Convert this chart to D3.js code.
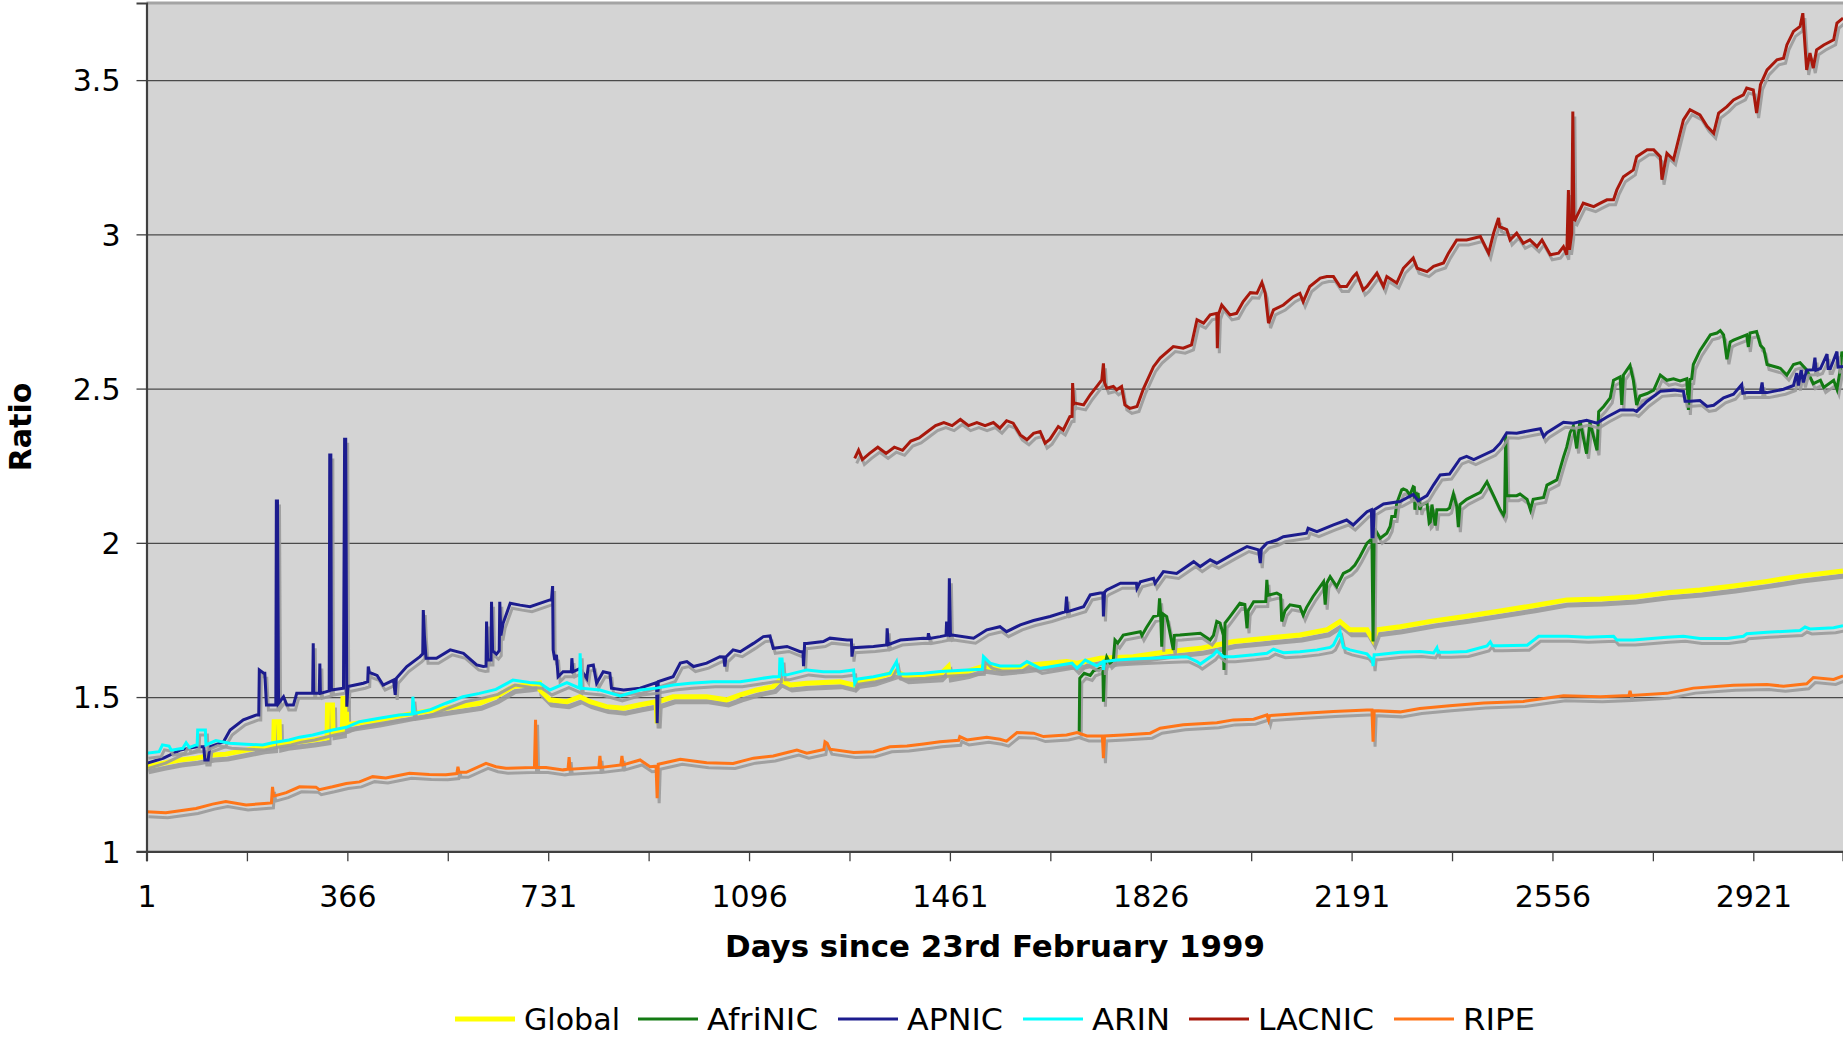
<!DOCTYPE html>
<html>
<head>
<meta charset="utf-8">
<script src="https://cdn.jsdelivr.net/npm/d3@7/dist/d3.min.js"></script>
<style>
  html, body { margin: 0; padding: 0; background: #ffffff; }
  svg { display: block; }
  text { font-family: "DejaVu Sans", Verdana, sans-serif; fill: #000; }
</style>
</head>
<body>
<svg id="chart" width="1843" height="1049"></svg>
<script>
// ---------------- DATA (day, ratio) ----------------
const seriesNames = ["Global", "AfriNIC", "APNIC", "ARIN", "LACNIC", "RIPE"];
const yTickValues = [1, 1.5, 2, 2.5, 3, 3.5];
const xTickLabels = ["1", "366", "731", "1096", "1461", "1826", "2191", "2556", "2921"];

const globalData = [[1,1.274],[30,1.285],[61,1.296],[91,1.302],[121,1.312],[145,1.315],[182,1.328],[212,1.339],[232,1.342],[233,1.42],[242,1.42],[243,1.345],[255,1.350],[303,1.361],[329,1.368],[330,1.474],[339,1.474],[340,1.385],[357,1.39],[358,1.496],[364,1.496],[365,1.410],[424,1.426],[485,1.447],[545,1.464],[606,1.480],[636,1.501],[667,1.534],[697,1.540],[715,1.545],[716,1.523],[734,1.491],[765,1.485],[789,1.501],[807,1.485],[837,1.469],[868,1.464],[898,1.475],[927,1.485],[929,1.415],[931,1.485],[958,1.501],[1019,1.501],[1055,1.491],[1080,1.507],[1110,1.523],[1140,1.534],[1152,1.556],[1171,1.539],[1201,1.545],[1261,1.550],[1286,1.539],[1292,1.550],[1322,1.558],[1364,1.583],[1383,1.566],[1443,1.572],[1458,1.599],[1460,1.572],[1492,1.583],[1522,1.600],[1552,1.593],[1589,1.599],[1613,1.605],[1673,1.615],[1692,1.610],[1734,1.626],[1794,1.631],[1855,1.647],[1916,1.658],[1946,1.669],[1976,1.680],[2037,1.691],[2097,1.701],[2146,1.718],[2170,1.745],[2188,1.718],[2219,1.718],[2230,1.685],[2237,1.718],[2279,1.728],[2340,1.747],[2400,1.762],[2461,1.779],[2521,1.796],[2582,1.815],[2643,1.818],[2703,1.824],[2764,1.838],[2824,1.847],[2885,1.860],[2946,1.875],[3006,1.892],[3084,1.909]];

const afrinicData = [[1696,1.388],[1697,1.561],[1705,1.577],[1716,1.570],[1722,1.585],[1734,1.593],[1739,1.593],[1740,1.485],[1742,1.600],[1746,1.630],[1752,1.610],[1758,1.620],[1761,1.685],[1766,1.675],[1776,1.701],[1807,1.712],[1810,1.700],[1818,1.725],[1831,1.761],[1840,1.765],[1842,1.820],[1844,1.770],[1846,1.663],[1848,1.770],[1855,1.761],[1861,1.707],[1867,1.653],[1869,1.700],[1879,1.701],[1916,1.707],[1934,1.685],[1940,1.700],[1946,1.745],[1952,1.740],[1958,1.700],[1959,1.588],[1961,1.740],[1970,1.761],[1988,1.804],[1997,1.800],[2001,1.723],[2003,1.780],[2013,1.809],[2035,1.810],[2037,1.880],[2039,1.830],[2055,1.837],[2062,1.830],[2064,1.745],[2070,1.780],[2079,1.799],[2097,1.793],[2103,1.766],[2109,1.790],[2121,1.826],[2140,1.874],[2143,1.800],[2146,1.870],[2152,1.890],[2164,1.858],[2176,1.901],[2188,1.912],[2197,1.928],[2206,1.955],[2219,1.999],[2225,2.009],[2228,2.010],[2230,1.680],[2232,2.040],[2234,2.042],[2243,2.015],[2255,2.031],[2261,2.053],[2264,2.085],[2270,2.085],[2273,2.128],[2282,2.172],[2285,2.175],[2291,2.170],[2297,2.155],[2303,2.182],[2305,2.180],[2306,2.107],[2308,2.160],[2312,2.158],[2315,2.107],[2318,2.123],[2328,2.130],[2332,2.064],[2334,2.068],[2337,2.124],[2343,2.056],[2346,2.107],[2364,2.107],[2369,2.113],[2376,2.159],[2382,2.119],[2385,2.051],[2388,2.124],[2400,2.141],[2413,2.153],[2425,2.164],[2437,2.198],[2449,2.153],[2461,2.107],[2467,2.090],[2469,2.100],[2471,2.351],[2473,2.153],[2491,2.153],[2497,2.158],[2510,2.141],[2516,2.107],[2521,2.141],[2540,2.147],[2546,2.187],[2564,2.204],[2576,2.278],[2582,2.311],[2588,2.357],[2594,2.379],[2600,2.306],[2606,2.397],[2618,2.289],[2624,2.391],[2637,2.300],[2640,2.425],[2649,2.442],[2661,2.470],[2667,2.527],[2679,2.538],[2682,2.447],[2685,2.544],[2697,2.575],[2703,2.527],[2709,2.447],[2715,2.476],[2728,2.484],[2740,2.495],[2752,2.544],[2764,2.527],[2776,2.532],[2788,2.525],[2800,2.532],[2803,2.431],[2806,2.530],[2809,2.532],[2812,2.578],[2824,2.623],[2843,2.674],[2855,2.680],[2861,2.688],[2867,2.674],[2873,2.595],[2879,2.651],[2885,2.657],[2909,2.674],[2912,2.635],[2915,2.680],[2927,2.685],[2934,2.640],[2940,2.629],[2946,2.578],[2970,2.566],[2982,2.544],[2994,2.578],[3006,2.584],[3018,2.561],[3030,2.516],[3043,2.527],[3049,2.504],[3067,2.527],[3073,2.498],[3079,2.561],[3082,2.620],[3084,2.600]];

const apnicData = [[1,1.285],[32,1.302],[62,1.328],[92,1.339],[105,1.339],[107,1.296],[113,1.296],[116,1.339],[141,1.355],[153,1.393],[177,1.426],[201,1.442],[205,1.442],[206,1.588],[214,1.577],[216,1.577],[219,1.474],[236,1.474],[237,2.136],[239,2.136],[241,1.480],[250,1.501],[256,1.474],[268,1.474],[274,1.512],[303,1.512],[304,1.674],[305,1.512],[315,1.512],[316,1.609],[317,1.512],[333,1.520],[334,2.285],[336,2.285],[337,1.523],[359,1.529],[361,2.336],[363,2.336],[365,1.469],[367,1.534],[395,1.545],[403,1.550],[404,1.599],[406,1.580],[420,1.570],[431,1.539],[450,1.555],[453,1.507],[455,1.561],[474,1.599],[498,1.631],[503,1.640],[504,1.782],[506,1.700],[509,1.626],[528,1.626],[553,1.653],[577,1.642],[601,1.604],[613,1.599],[618,1.600],[619,1.745],[621,1.620],[627,1.620],[628,1.809],[630,1.650],[637,1.639],[642,1.650],[643,1.809],[645,1.700],[649,1.739],[662,1.804],[680,1.798],[698,1.793],[734,1.815],[737,1.815],[739,1.860],[740,1.653],[743,1.620],[746,1.637],[749,1.566],[758,1.582],[773,1.582],[774,1.626],[776,1.582],[789,1.593],[801,1.561],[804,1.601],[813,1.604],[819,1.545],[831,1.582],[843,1.577],[846,1.529],[868,1.523],[898,1.529],[928,1.547],[929,1.415],[931,1.550],[958,1.566],[971,1.610],[983,1.615],[995,1.599],[1019,1.610],[1043,1.631],[1050,1.630],[1052,1.599],[1054,1.630],[1067,1.653],[1080,1.647],[1104,1.674],[1122,1.696],[1134,1.698],[1140,1.658],[1165,1.664],[1189,1.647],[1194,1.647],[1195,1.600],[1197,1.674],[1201,1.674],[1231,1.680],[1243,1.691],[1274,1.685],[1282,1.685],[1283,1.631],[1285,1.660],[1322,1.664],[1346,1.669],[1347,1.723],[1349,1.670],[1371,1.685],[1413,1.691],[1421,1.690],[1422,1.707],[1424,1.690],[1443,1.696],[1454,1.700],[1455,1.745],[1457,1.700],[1459,1.700],[1460,1.885],[1462,1.700],[1465,1.701],[1504,1.691],[1528,1.718],[1552,1.728],[1564,1.712],[1589,1.734],[1613,1.748],[1643,1.761],[1671,1.777],[1673,1.826],[1675,1.777],[1704,1.793],[1716,1.831],[1734,1.837],[1739,1.837],[1740,1.761],[1742,1.840],[1746,1.847],[1771,1.869],[1800,1.869],[1801,1.853],[1807,1.874],[1831,1.885],[1834,1.869],[1849,1.907],[1873,1.901],[1904,1.939],[1916,1.923],[1934,1.945],[1946,1.934],[1976,1.964],[2001,1.988],[2022,1.977],[2025,1.934],[2027,1.980],[2037,1.999],[2055,2.009],[2067,2.020],[2109,2.031],[2112,2.047],[2128,2.036],[2158,2.058],[2182,2.074],[2194,2.058],[2219,2.101],[2227,2.107],[2228,2.020],[2230,2.020],[2232,2.107],[2249,2.126],[2279,2.134],[2303,2.157],[2312,2.136],[2328,2.153],[2340,2.188],[2352,2.220],[2369,2.223],[2388,2.272],[2400,2.280],[2413,2.270],[2449,2.300],[2461,2.323],[2473,2.357],[2491,2.355],[2521,2.366],[2534,2.370],[2540,2.345],[2546,2.357],[2576,2.391],[2594,2.388],[2618,2.397],[2637,2.388],[2655,2.408],[2679,2.431],[2703,2.431],[2709,2.426],[2728,2.459],[2752,2.491],[2776,2.495],[2794,2.491],[2797,2.459],[2806,2.459],[2824,2.461],[2837,2.442],[2849,2.446],[2867,2.470],[2885,2.482],[2900,2.513],[2902,2.485],[2909,2.487],[2934,2.487],[2937,2.520],[2939,2.487],[2946,2.487],[2976,2.498],[2994,2.510],[3000,2.550],[3003,2.510],[3008,2.560],[3012,2.520],[3018,2.560],[3030,2.561],[3033,2.600],[3035,2.560],[3043,2.565],[3055,2.612],[3057,2.565],[3061,2.565],[3073,2.620],[3075,2.570],[3084,2.572]];

const arinData = [[1,1.318],[24,1.323],[30,1.345],[42,1.341],[46,1.328],[67,1.334],[73,1.352],[79,1.337],[91,1.345],[93,1.345],[94,1.393],[108,1.393],[109,1.345],[127,1.359],[152,1.350],[182,1.347],[212,1.345],[230,1.352],[260,1.361],[279,1.370],[303,1.377],[339,1.393],[364,1.402],[388,1.420],[424,1.431],[460,1.442],[484,1.445],[485,1.501],[488,1.447],[515,1.458],[545,1.480],[576,1.501],[606,1.512],[636,1.525],[667,1.555],[697,1.547],[716,1.545],[734,1.523],[765,1.547],[788,1.529],[789,1.642],[791,1.529],[825,1.523],[862,1.504],[898,1.523],[928,1.529],[958,1.539],[989,1.545],[1031,1.550],[1080,1.550],[1110,1.558],[1140,1.566],[1151,1.566],[1152,1.623],[1156,1.623],[1158,1.572],[1165,1.572],[1201,1.588],[1231,1.582],[1261,1.582],[1286,1.588],[1288,1.545],[1292,1.558],[1322,1.566],[1352,1.577],[1364,1.615],[1368,1.575],[1383,1.575],[1413,1.577],[1443,1.583],[1492,1.588],[1520,1.590],[1522,1.631],[1534,1.610],[1552,1.601],[1589,1.601],[1601,1.615],[1625,1.593],[1673,1.607],[1683,1.610],[1692,1.593],[1707,1.620],[1728,1.601],[1739,1.615],[1740,1.588],[1742,1.615],[1764,1.620],[1794,1.623],[1855,1.628],[1891,1.631],[1910,1.615],[1916,1.607],[1940,1.637],[1946,1.650],[1958,1.631],[1976,1.631],[2013,1.637],[2037,1.642],[2049,1.655],[2067,1.644],[2097,1.647],[2128,1.653],[2152,1.661],[2158,1.669],[2170,1.712],[2176,1.661],[2188,1.653],[2219,1.640],[2229,1.620],[2230,1.600],[2232,1.637],[2237,1.637],[2279,1.645],[2315,1.648],[2340,1.643],[2346,1.660],[2348,1.645],[2369,1.645],[2400,1.648],[2437,1.666],[2443,1.679],[2447,1.666],[2461,1.666],[2510,1.668],[2531,1.697],[2582,1.697],[2618,1.694],[2667,1.697],[2673,1.685],[2703,1.685],[2764,1.694],[2794,1.697],[2824,1.690],[2873,1.690],[2903,1.697],[2909,1.705],[2946,1.710],[3006,1.716],[3015,1.727],[3024,1.721],[3067,1.725],[3084,1.731]];

const lacnicData = [[1288,2.274],[1295,2.300],[1302,2.270],[1315,2.290],[1330,2.310],[1345,2.290],[1360,2.310],[1375,2.300],[1390,2.330],[1405,2.340],[1420,2.360],[1435,2.380],[1450,2.390],[1465,2.380],[1480,2.400],[1495,2.380],[1510,2.390],[1525,2.380],[1540,2.390],[1552,2.372],[1564,2.396],[1576,2.388],[1589,2.350],[1601,2.334],[1613,2.355],[1625,2.361],[1634,2.323],[1643,2.336],[1658,2.377],[1667,2.366],[1679,2.409],[1683,2.410],[1684,2.518],[1686,2.450],[1688,2.453],[1704,2.447],[1716,2.480],[1728,2.507],[1737,2.528],[1740,2.582],[1742,2.520],[1746,2.501],[1758,2.507],[1764,2.496],[1773,2.507],[1779,2.447],[1788,2.436],[1801,2.442],[1813,2.501],[1831,2.571],[1843,2.599],[1867,2.636],[1885,2.631],[1900,2.642],[1910,2.723],[1922,2.712],[1934,2.739],[1946,2.744],[1947,2.631],[1949,2.740],[1955,2.771],[1970,2.739],[1982,2.744],[1994,2.782],[2007,2.811],[2019,2.809],[2028,2.844],[2034,2.809],[2040,2.712],[2049,2.755],[2067,2.771],[2085,2.798],[2097,2.809],[2103,2.782],[2115,2.831],[2134,2.858],[2146,2.863],[2158,2.863],[2170,2.831],[2182,2.831],[2194,2.863],[2200,2.874],[2212,2.820],[2219,2.831],[2237,2.874],[2249,2.831],[2255,2.863],[2273,2.842],[2285,2.890],[2303,2.923],[2310,2.890],[2328,2.879],[2340,2.896],[2358,2.907],[2367,2.939],[2382,2.982],[2400,2.982],[2425,2.993],[2440,2.939],[2449,3.004],[2458,3.053],[2460,3.025],[2473,3.015],[2479,2.982],[2491,3.004],[2503,2.971],[2515,2.982],[2528,2.960],[2537,2.982],[2552,2.934],[2567,2.939],[2576,2.960],[2582,2.934],[2585,3.144],[2587,2.950],[2591,3.004],[2593,3.398],[2595,3.050],[2597,3.047],[2612,3.101],[2631,3.090],[2643,3.101],[2655,3.112],[2667,3.112],[2673,3.144],[2685,3.187],[2703,3.209],[2709,3.252],[2728,3.274],[2740,3.274],[2752,3.252],[2755,3.177],[2764,3.263],[2776,3.242],[2782,3.285],[2794,3.371],[2806,3.404],[2824,3.387],[2837,3.350],[2849,3.328],[2858,3.393],[2873,3.414],[2885,3.436],[2903,3.452],[2909,3.474],[2921,3.468],[2927,3.393],[2934,3.485],[2946,3.533],[2964,3.566],[2976,3.571],[2982,3.614],[2994,3.658],[3006,3.674],[3011,3.717],[3015,3.609],[3018,3.533],[3024,3.588],[3030,3.539],[3036,3.598],[3049,3.614],[3067,3.631],[3073,3.685],[3084,3.701]];

const ripeData = [[1,1.128],[36,1.125],[91,1.139],[121,1.153],[145,1.161],[182,1.150],[215,1.155],[228,1.157],[230,1.209],[232,1.179],[255,1.190],[279,1.209],[309,1.208],[315,1.200],[339,1.209],[364,1.220],[388,1.225],[412,1.242],[436,1.238],[479,1.253],[515,1.249],[545,1.248],[565,1.252],[567,1.274],[569,1.256],[582,1.256],[618,1.285],[636,1.274],[654,1.269],[706,1.272],[708,1.426],[710,1.272],[727,1.272],[758,1.264],[767,1.266],[769,1.305],[771,1.266],[823,1.272],[825,1.309],[827,1.272],[863,1.280],[865,1.309],[867,1.280],[898,1.296],[916,1.274],[927,1.276],[929,1.172],[931,1.282],[971,1.298],[1019,1.287],[1067,1.285],[1104,1.302],[1140,1.309],[1183,1.328],[1201,1.318],[1232,1.330],[1234,1.355],[1238,1.350],[1243,1.331],[1286,1.320],[1322,1.323],[1352,1.339],[1383,1.341],[1413,1.348],[1443,1.355],[1477,1.360],[1479,1.372],[1492,1.361],[1528,1.370],[1552,1.363],[1564,1.357],[1583,1.385],[1613,1.383],[1631,1.372],[1673,1.377],[1692,1.385],[1710,1.374],[1738,1.374],[1740,1.302],[1742,1.374],[1776,1.377],[1825,1.383],[1843,1.399],[1885,1.410],[1946,1.417],[1976,1.426],[2013,1.428],[2037,1.442],[2040,1.426],[2042,1.440],[2097,1.447],[2158,1.453],[2219,1.458],[2228,1.458],[2230,1.355],[2232,1.456],[2279,1.452],[2315,1.463],[2369,1.472],[2431,1.481],[2503,1.486],[2576,1.504],[2643,1.501],[2695,1.505],[2697,1.520],[2699,1.505],[2764,1.512],[2812,1.529],[2885,1.538],[2946,1.541],[2976,1.535],[3018,1.543],[3030,1.563],[3067,1.557],[3084,1.569]];

const seriesData = [globalData, afrinicData, apnicData, arinData, lacnicData, ripeData];
const seriesColors = ["#ffff00", "#137a13", "#1c1c8e", "#00ffff", "#a8180c", "#ff7518"];
const seriesWidths = [5, 3, 3, 3, 3, 3];

// ---------------- LAYOUT ----------------
const W = 1843, H = 1049;
const plot = { left: 146.5, top: 3, right: 1843, bottom: 851.3 };
const legendX = [455, 638, 838, 1023, 1189, 1394];
const legendTextW = [96, 111, 96, 78, 116, 72];

const svg = d3.select("#chart");
svg.append("rect").attr("width", W).attr("height", H).attr("fill", "#ffffff");

const x = d3.scaleLinear().domain([1, 3084]).range([plot.left, plot.right]);
const y = d3.scaleLinear().domain([1, 3.75]).range([plot.bottom, plot.top]);

// plot background
svg.append("rect")
  .attr("x", plot.left).attr("y", plot.top)
  .attr("width", plot.right - plot.left + 10).attr("height", plot.bottom - plot.top)
  .attr("fill", "#d4d4d4");

// top frame line
svg.append("line")
  .attr("x1", plot.left).attr("x2", W).attr("y1", plot.top).attr("y2", plot.top)
  .attr("stroke", "#a4a4a4").attr("stroke-width", 3);

// grid lines
svg.append("g")
  .attr("transform", `translate(${plot.left},0)`)
  .call(d3.axisLeft(y).tickValues(yTickValues.filter(v => v > 1)).tickSize(-(plot.right - plot.left + 10)).tickFormat(""))
  .call(g => g.select(".domain").remove())
  .call(g => g.selectAll("line").attr("stroke", "#4a4a4a").attr("stroke-width", 1.3));

// clip
svg.append("clipPath").attr("id", "clip")
  .append("rect").attr("x", plot.left).attr("y", plot.top).attr("width", plot.right - plot.left + 10).attr("height", plot.bottom - plot.top);

const line = d3.line().x(d => x(d[0])).y(d => y(d[1]));
const seriesG = svg.append("g").attr("clip-path", "url(#clip)");

seriesData.forEach((data, i) => {
  const g = seriesG.append("g");
  g.append("path")
    .datum(data)
    .attr("d", line)
    .attr("transform", "translate(2,5)")
    .attr("fill", "none")
    .attr("stroke", "#9a9a9a")
    .attr("stroke-opacity", 0.9)
    .attr("stroke-width", seriesWidths[i])
    .attr("stroke-linejoin", "miter");
  g.append("path")
    .datum(data)
    .attr("d", line)
    .attr("fill", "none")
    .attr("stroke", seriesColors[i])
    .attr("stroke-width", seriesWidths[i])
    .attr("stroke-linejoin", "miter");
});

// Y axis
const yAxis = svg.append("g")
  .attr("transform", `translate(${plot.left},0)`)
  .call(d3.axisLeft(y).tickValues(yTickValues).tickSize(10).tickPadding(16).tickFormat(d3.format("")));
yAxis.select(".domain").attr("stroke", "#404040").attr("stroke-width", 2.2);
yAxis.selectAll(".tick line").attr("stroke", "#404040").attr("stroke-width", 1.3);
yAxis.selectAll("text").style("font-size", "30px").attr("fill", "#000").attr("dy", "0.36em");

// X axis
const xTickVals = d3.range(0, 17).map(i => 1 + i * 182.5);
const xAxis = svg.append("g")
  .attr("transform", `translate(0,${plot.bottom})`)
  .call(d3.axisBottom(x).tickValues(xTickVals).tickSize(10).tickPadding(24)
    .tickFormat((d, i) => (i % 2 === 0 ? xTickLabels[i / 2] : "")));
xAxis.select(".domain").attr("stroke", "#404040").attr("stroke-width", 2.2);
xAxis.selectAll(".tick line").attr("stroke", "#404040").attr("stroke-width", 1.3);
xAxis.selectAll("text").style("font-size", "30px").attr("fill", "#000");

// Axis titles
svg.append("text")
  .attr("x", 995).attr("y", 957)
  .attr("text-anchor", "middle")
  .attr("textLength", 540).attr("lengthAdjust", "spacingAndGlyphs")
  .style("font-size", "30.5px").style("font-weight", "bold")
  .text("Days since 23rd February 1999");

svg.append("text")
  .attr("transform", "translate(31,427) rotate(-90)")
  .attr("text-anchor", "middle")
  .style("font-size", "30px").style("font-weight", "bold")
  .text("Ratio");

// Legend
const legend = svg.append("g");
const ly = 1019;
seriesNames.forEach((name, i) => {
  const lx = legendX[i];
  legend.append("line")
    .attr("x1", lx).attr("x2", lx + 60).attr("y1", ly).attr("y2", ly)
    .attr("stroke", seriesColors[i]).attr("stroke-width", i === 0 ? 5 : 3);
  legend.append("text")
    .attr("x", lx + 69).attr("y", ly).attr("dy", "0.36em")
    .attr("textLength", legendTextW[i]).attr("lengthAdjust", "spacingAndGlyphs")
    .style("font-size", "30px")
    .text(name);
});
</script>
</body>
</html>
